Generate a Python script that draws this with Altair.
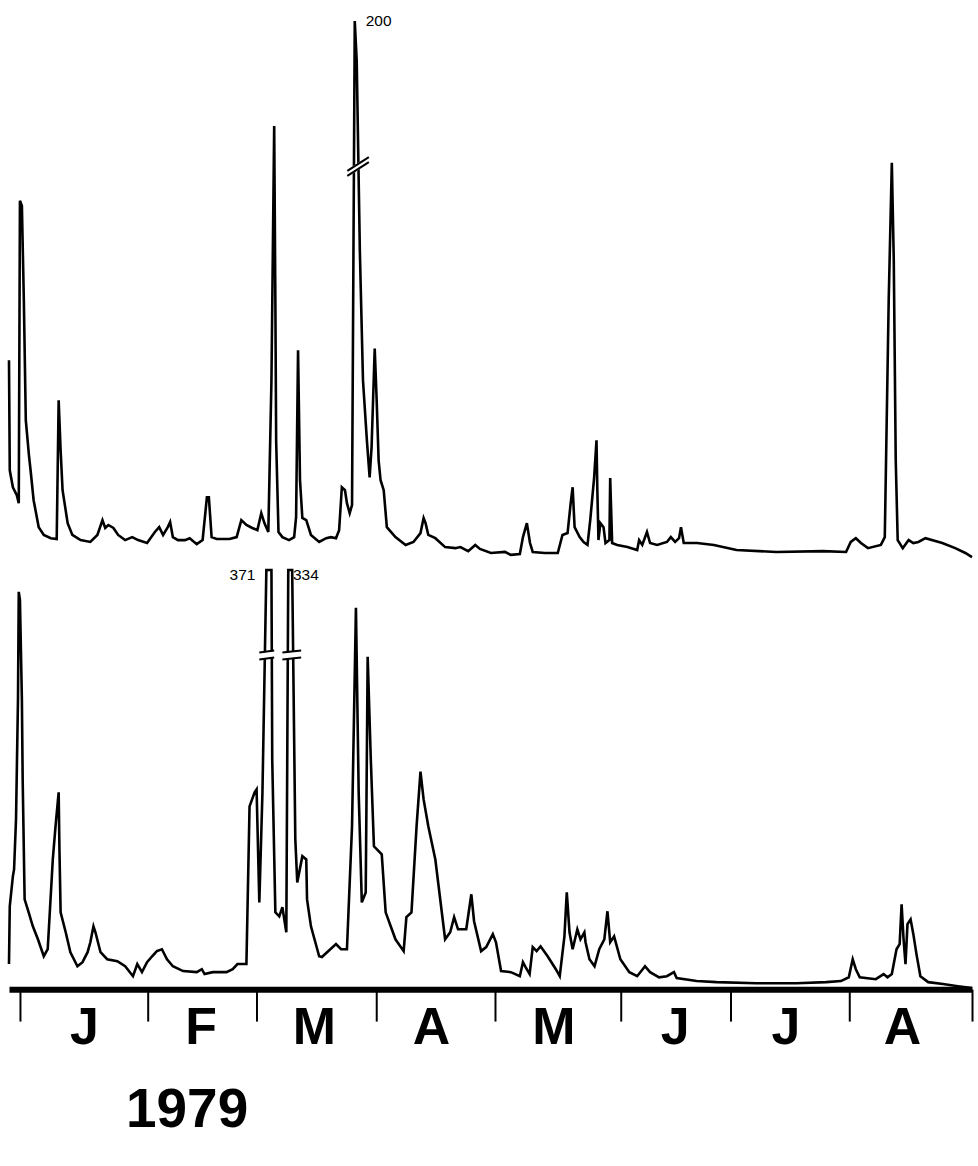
import altair as alt
import pandas as pd

# ---- upper hydrograph (day of 1979, 0 = 1 Jan) ----
top_day = [-2.7, -2.5, -1.7, -0.7, -0.2, 0.1, 0.6, 1.1, 1.6, 2.4, 2.9, 3.6, 4.9, 6.2, 8.0, 9.5,
           10.0, 10.5, 11.0, 12.3, 13.5, 15.6, 18.1, 19.9, 21.2, 21.9, 22.7, 24.0, 25.2, 27.0,
           28.8, 30.3, 32.6, 34.6, 35.7, 36.7, 37.9, 38.5, 39.2, 40.5, 42.3, 43.5, 45.3, 46.8,
           47.9, 48.4, 49.1, 50.4, 53.7, 55.5, 56.7, 58.0, 59.5, 60.8, 61.8, 62.6, 63.6, 64.4,
           65.1, 65.4, 65.6, 66.2, 67.2, 68.9, 70.2, 70.7, 71.2, 71.7, 72.3, 73.3, 74.5, 76.6,
           78.4, 79.6, 80.9, 81.7, 82.4, 83.2, 83.7, 84.4, 85.0, 85.7, 86.2, 87.0, 87.8, 88.8,
           89.5, 90.0, 90.8, 91.3, 91.8, 92.3, 93.1, 93.9, 96.1, 98.7, 100.7, 102.5, 103.3,
           103.8, 104.5, 106.3, 108.8, 111.4, 112.7, 114.7, 116.5, 117.7, 120.5, 124.1, 125.6,
           127.9, 128.7, 129.7, 130.5, 131.2, 134.3, 137.6, 138.8, 140.1, 140.9, 141.4, 141.9,
           143.2, 144.2, 145.2, 145.9, 146.9, 147.5, 147.7, 148.0, 148.5, 149.3, 149.8, 150.8,
           151.0, 151.5, 152.8, 155.4, 157.9, 158.4, 159.2, 160.4, 161.2, 163.0, 165.5, 166.5,
           167.6, 168.6, 169.1, 169.8, 173.2, 177.5, 183.3, 193.5, 205.4, 211.3, 212.5, 213.8,
           215.1, 216.9, 220.2, 221.2, 222.2, 223.0, 223.5, 224.0, 224.5, 225.8, 227.3, 228.5,
           229.8, 231.6, 235.9, 239.2, 241.8, 243.5]
top_val = [74.1, 33.3, 27.0, 24.1, 21.1, 133.3, 131.5, 96.3, 51.9, 38.9, 32.2, 22.2, 12.2, 9.3,
           8.1, 7.8, 59.3, 40.7, 25.9, 13.7, 9.3, 7.4, 6.7, 9.3, 14.8, 11.9, 13.0, 11.9, 9.3, 7.4,
           8.5, 7.4, 6.3, 10.4, 12.2, 9.3, 12.2, 14.1, 8.5, 7.4, 7.4, 8.1, 5.9, 7.4, 23.3, 23.3,
           8.5, 7.8, 7.8, 8.5, 14.8, 13.0, 11.9, 11.1, 17.4, 13.7, 10.4, 66.7, 161.1, 96.3, 44.4,
           10.4, 8.5, 7.4, 8.5, 15.9, 77.8, 29.6, 15.6, 14.8, 9.3, 6.7, 8.1, 8.5, 8.1, 11.1, 27.0,
           25.9, 21.1, 17.4, 20.4, 200.0, 185.2, 114.8, 66.7, 44.4, 30.7, 41.9, 78.5, 59.3, 37.0,
           29.6, 25.9, 12.2, 8.5, 5.6, 6.7, 10.0, 15.6, 13.7, 9.3, 8.1, 4.8, 4.4, 4.8, 3.3, 5.6,
           4.1, 2.6, 3.0, 1.9, 2.2, 8.5, 13.7, 6.3, 3.0, 2.6, 2.6, 9.3, 10.0, 21.1, 27.0, 12.2,
           8.5, 6.7, 5.6, 14.8, 30.7, 44.4, 27.0, 7.4, 13.7, 12.2, 6.3, 7.4, 30.4, 6.3, 5.6, 4.8,
           3.7, 7.4, 5.6, 10.4, 6.3, 5.6, 6.7, 8.5, 6.7, 8.1, 12.2, 6.3, 6.3, 5.6, 3.7, 3.0, 3.3,
           3.0, 6.7, 8.1, 6.3, 4.4, 5.6, 8.5, 96.3, 147.4, 111.1, 37.0, 7.4, 4.4, 7.4, 6.3, 6.7,
           8.1, 6.3, 4.4, 2.6, 1.1]

# ---- lower hydrograph ----
bot_day = [-2.7, -2.5, -1.7, -1.4, -0.9, -0.4, -0.2, 0.1, 0.6, 0.8, 1.3, 2.1, 3.4, 4.7, 6.2,
           7.2, 8.5, 9.2, 10.0, 10.2, 10.5, 11.8, 13.0, 14.8, 16.1, 17.4, 18.1, 18.9, 19.4, 20.7,
           22.4, 25.0, 27.0, 29.0, 30.1, 31.3, 32.6, 33.9, 35.1, 36.4, 37.7, 39.2, 41.8, 45.3,
           46.6, 47.3, 49.4, 52.9, 54.5, 55.7, 58.0, 58.8, 60.1, 60.6, 61.3, 62.1, 63.1, 64.4,
           64.6, 65.4, 66.4, 67.2, 68.2, 68.7, 69.7, 70.5, 71.0, 72.3, 73.3, 73.5, 74.5, 76.6,
           77.3, 80.9, 82.2, 83.7, 85.0, 86.0, 86.7, 87.5, 88.5, 89.0, 89.8, 90.6, 92.6, 93.6,
           96.1, 98.2, 98.9, 100.2, 101.5, 102.5, 103.3, 104.5, 106.3, 108.8, 110.1, 111.1,
           112.1, 114.2, 115.5, 116.2, 118.0, 119.3, 121.0, 121.8, 123.1, 125.6, 127.9, 128.7,
           129.4, 130.4, 131.2, 132.2, 133.2, 135.0, 137.1, 138.1, 139.3, 139.9, 140.6, 141.4,
           142.6, 143.4, 144.4, 144.7, 145.7, 147.0, 148.2, 149.5, 150.3, 151.0, 152.0, 153.6,
           155.9, 157.9, 159.9, 161.2, 163.5, 165.5, 167.3, 168.0, 173.1, 178.2, 188.4, 198.6,
           206.2, 210.0, 212.0, 213.0, 213.8, 214.8, 218.9, 220.9, 221.9, 223.0, 224.2, 225.0,
           225.5, 226.0, 226.5, 227.0, 227.8, 228.5, 229.3, 230.3, 232.3, 236.1, 239.9, 243.5]
bot_val = [9.3, 30.7, 41.9, 44.4, 63.0, 107.4, 147.4, 144.4, 107.4, 77.8, 33.3, 29.6, 23.3, 18.5,
           12.2, 14.8, 48.1, 60.4, 73.0, 51.9, 28.5, 21.1, 13.7, 8.5, 10.0, 13.7, 17.4, 23.3, 21.1,
           13.7, 11.1, 10.4, 8.5, 4.8, 9.3, 6.3, 10.0, 12.2, 14.1, 14.8, 11.1, 8.5, 6.7, 6.3, 7.4,
           5.6, 6.3, 6.3, 7.4, 9.3, 9.3, 67.8, 73.0, 74.1, 32.2, 73.0, 155.5, 155.5, 85.2, 28.5,
           27.0, 30.4, 21.1, 155.5, 155.5, 55.6, 39.6, 49.3, 48.1, 33.3, 23.3, 12.2, 11.9, 16.7,
           14.8, 14.8, 60.4, 141.5, 73.0, 32.2, 35.9, 123.3, 85.2, 53.0, 50.0, 28.5, 18.5, 14.1,
           26.7, 28.5, 60.4, 80.7, 70.4, 60.4, 48.1, 18.5, 21.1, 26.7, 22.2, 22.2, 35.2, 25.2,
           14.1, 15.6, 20.4, 17.4, 6.7, 6.3, 4.8, 10.0, 8.1, 5.6, 15.6, 14.1, 15.9, 12.2, 7.4, 4.8,
           19.6, 35.9, 21.1, 14.8, 22.2, 18.5, 21.1, 17.4, 11.1, 8.5, 14.8, 18.5, 28.9, 17.4, 19.6,
           11.1, 6.3, 4.8, 8.5, 6.3, 4.4, 4.8, 6.3, 4.1, 3.0, 2.6, 2.2, 2.2, 2.6, 3.0, 4.4, 11.1,
           7.4, 4.4, 3.7, 5.6, 4.4, 5.6, 14.8, 16.7, 31.5, 18.5, 9.3, 24.1, 25.9, 20.4, 13.0, 4.8,
           2.6, 1.9, 1.1, 0.4]

# ---- axis / annotations (tick and label positions, in days) ----
month_ticks = [0, 32.7, 60.5, 91.1, 121.5, 153.7, 181.7, 212.1, 243.5]
month_mid = [16.6, 46.4, 75.4, 105.3, 136.6, 167.6, 195.9, 225.7]
month_lbl = ["J", "F", "M", "A", "M", "J", "J", "A"]
year_label = "1979"

top_peak_text = ["200"]
top_peak_day = [88.5]
top_peak_val = [200]

bot_peak_text = ["371", "334"]
bot_peak_day = [60.3, 69.9]
bot_peak_val = [153.7, 153.7]
bot_peak_align = ["right", "left"]

# break symbols (//) on truncated peaks: start day, end day, start value, end value
top_break = dict(d0=[83.8], d1=[89.3], v0=[143.5], v1=[148.6])
bot_break = dict(d0=[61.3, 67.2], d1=[65.1, 72.0], v0=[123.6, 123.6], v1=[124.3, 124.3])

TOP_MAX = 200
BOT_MAX = 155.5
W = 965

xs = alt.Scale(domain=[-2.7, 243.5], nice=False, zero=False)
ys_top = alt.Scale(domain=[0, TOP_MAX], nice=False, zero=False)
ys_bot = alt.Scale(domain=[0, BOT_MAX], nice=False, zero=False)

bold_font = "Liberation Sans, Arial, Helvetica, sans-serif"
plain = "Liberation Sans, Arial, Helvetica, sans-serif"

x_axis = alt.Axis(values=month_ticks, tickSize=32, tickWidth=2, tickColor="black",
                  domainWidth=6, domainColor="black", labels=False, grid=False,
                  title=year_label, titleFont=bold_font, titleFontSize=55,
                  titleFontWeight="bold", titleColor="black", titleX=178, titleY=138,
                  titleBaseline="alphabetic", titleAlign="center")

top_df = pd.DataFrame({"day": top_day, "val": top_val})
bot_df = pd.DataFrame({"day": bot_day, "val": bot_val})


def break_layers(bdf, yscale, off, xaxis):
    bdf = pd.DataFrame(bdf)
    bdf["v0a"] = bdf["v0"] + off
    bdf["v1a"] = bdf["v1"] + off
    bdf["v0b"] = bdf["v0"] - off
    bdf["v1b"] = bdf["v1"] - off
    base = alt.Chart(bdf)
    gap = base.mark_rule(color="white", strokeWidth=6).encode(
        x=alt.X("d0:Q", scale=xs, axis=xaxis), x2="d1:Q",
        y=alt.Y("v0:Q", scale=yscale, axis=None), y2="v1:Q")
    la = base.mark_rule(color="black", strokeWidth=2).encode(
        x=alt.X("d0:Q", scale=xs, axis=xaxis), x2="d1:Q",
        y=alt.Y("v0a:Q", scale=yscale, axis=None), y2="v1a:Q")
    lb = base.mark_rule(color="black", strokeWidth=2).encode(
        x=alt.X("d0:Q", scale=xs, axis=xaxis), x2="d1:Q",
        y=alt.Y("v0b:Q", scale=yscale, axis=None), y2="v1b:Q")
    return [gap, la, lb]


top_line = alt.Chart(top_df).mark_line(color="black", strokeWidth=2.6).encode(
    x=alt.X("day:Q", scale=xs, axis=None),
    y=alt.Y("val:Q", scale=ys_top, axis=None),
)
top_txt = alt.Chart(pd.DataFrame({"day": top_peak_day, "val": top_peak_val, "t": top_peak_text})).mark_text(
    font=plain, fontSize=15.5, align="left", baseline="middle", color="black").encode(
    x=alt.X("day:Q", scale=xs, axis=None),
    y=alt.Y("val:Q", scale=ys_top, axis=None),
    text="t:N")

top = alt.layer(top_line, *break_layers(top_break, ys_top, 0.95, None), top_txt).properties(width=W, height=540)

bot_line = alt.Chart(bot_df).mark_line(color="black", strokeWidth=2.6).encode(
    x=alt.X("day:Q", scale=xs, axis=x_axis),
    y=alt.Y("val:Q", scale=ys_bot, axis=None),
)
bot_txt_df = pd.DataFrame({"day": bot_peak_day, "val": bot_peak_val, "t": bot_peak_text, "a": bot_peak_align})
bot_txt_r = alt.Chart(bot_txt_df[bot_txt_df["a"] == "right"]).mark_text(
    font=plain, fontSize=15.5, align="right", baseline="middle", color="black").encode(
    x=alt.X("day:Q", scale=xs, axis=x_axis), y=alt.Y("val:Q", scale=ys_bot, axis=None), text="t:N")
bot_txt_l = alt.Chart(bot_txt_df[bot_txt_df["a"] == "left"]).mark_text(
    font=plain, fontSize=15.5, align="left", baseline="middle", color="black").encode(
    x=alt.X("day:Q", scale=xs, axis=x_axis), y=alt.Y("val:Q", scale=ys_bot, axis=None), text="t:N")

months = alt.Chart(pd.DataFrame({"day": month_mid, "m": month_lbl})).mark_text(
    font=bold_font, fontSize=52, fontWeight="bold", align="center", baseline="alphabetic",
    color="black").encode(
    x=alt.X("day:Q", scale=xs, axis=x_axis), y=alt.value(475), text="m:N")

bottom = alt.layer(bot_line, *break_layers(bot_break, ys_bot, 1.3, x_axis), bot_txt_r, bot_txt_l, months).properties(
    width=W, height=420)

chart = alt.vconcat(top, bottom, spacing=10, bounds="flush").properties(
    padding={"left": 3, "top": 13, "right": 0, "bottom": 0},
    background="white",
).configure_view(stroke=None)

chart.save("out.html", embed_options={"renderer": "svg", "actions": False})
